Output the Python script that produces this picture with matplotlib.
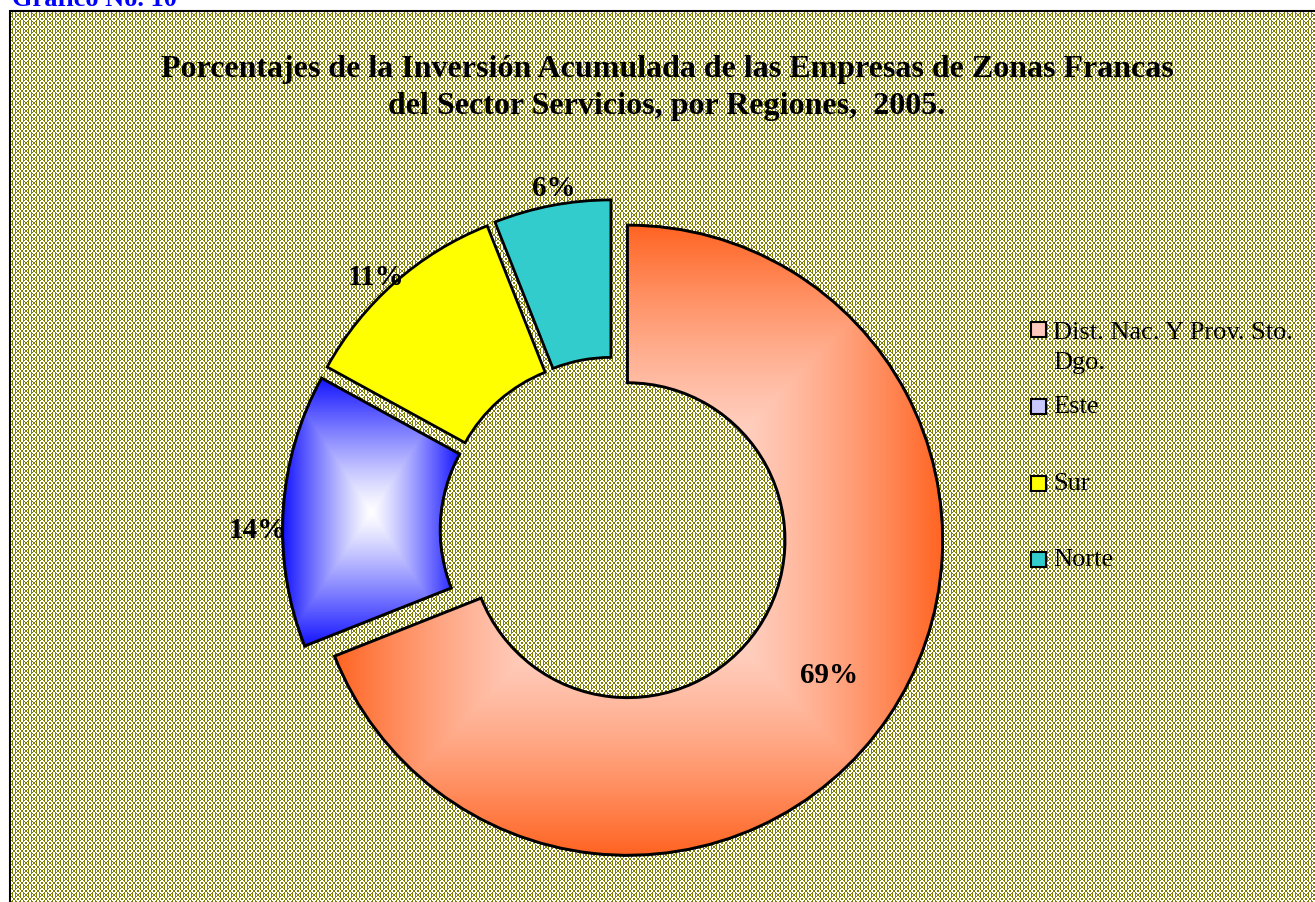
import numpy as np
import matplotlib
matplotlib.use("Agg")
import matplotlib.pyplot as plt
from matplotlib.patches import Rectangle, Wedge

# data
regions = ["Dist. Nac. Y Prov. Sto.\nDgo.", "Este", "Sur", "Norte"]
shares = [69, 14, 11, 6]
pct_labels = ["69%", "14%", "11%", "6%"]

title = ("Porcentajes de la Inversión Acumulada de las Empresas de Zonas Francas\n"
         "del Sector Servicios, por Regiones,  2005.")

W, H = 1315, 903
fig = plt.figure(figsize=(W / 100, H / 100), dpi=100)
fig.patch.set_facecolor("white")

# patterned olive background inside the frame (8px tile)
tile_rows = ["OWWOOWWO",
             "WWOWWOWW",
             "WOOWWOOW",
             "OWOWWOWO",
             "OWOWWOWO",
             "WOOWWOOW",
             "WWOWWOWW",
             "OWWOOWWO"]
tile = np.array([[ch == "W" for ch in r] for r in tile_rows])
fx0, fy_top = 10, 12
ph, pw = H - fy_top, W - fx0
white = np.tile(tile, (ph // 8 + 1, pw // 8 + 1))[:ph, :pw]
olive = np.array([128, 128, 0]) / 255.0
img = np.where(white[..., None], np.ones(3), olive)
bg = fig.add_axes([fx0 / W, 0, pw / W, ph / H])
bg.set_axis_off()
bg.imshow(img, aspect="auto", interpolation="nearest", extent=[0, 1, 0, 1])
bg.set_xlim(0, 1)
bg.set_ylim(0, 1)
fig.patches.append(Rectangle((fx0 / W, -0.01), 1.0, 1 - fy_top / H + 0.01,
                             transform=fig.transFigure, fill=False,
                             edgecolor="black", linewidth=1.5, zorder=5))

# doughnut
R = 315.0
cx, cy = 614.0, 532.0
L = 1.2
half = L * R
ax = fig.add_axes([(cx - half) / W, (H - cy - half) / H, 2 * half / W, 2 * half / H])
ax.set_xlim(-L, L)
ax.set_ylim(-L, L)
ax.set_axis_off()

flat = ["#ffb0a0", "#a0a0ff", "#ffff00", "#33cccc"]
wedges, _ = ax.pie(shares, colors=flat, startangle=90, counterclock=False,
                   explode=[0.052] * 4, radius=1.0,
                   wedgeprops=dict(width=0.5, edgecolor="black", linewidth=2))

# "from center" gradients for the first two slices
grads = {0: ("#ff6422", "#ffe8e4", 1.6), 1: ("#1414ff", "#ffffff", 1.2)}
for i, (dark, light, pw_exp) in grads.items():
    w = wedges[i]
    w.set_zorder(1)
    ext = w.get_path().get_extents()
    GX, GY = np.meshgrid(np.linspace(-1, 1, 300), np.linspace(-1, 1, 300))
    t = np.maximum(np.abs(GX), np.abs(GY)) ** pw_exp
    d = np.array(matplotlib.colors.to_rgb(dark))
    l = np.array(matplotlib.colors.to_rgb(light))
    g = l[None, None, :] * (1 - t[..., None]) + d[None, None, :] * t[..., None]
    im = ax.imshow(g, extent=[ext.x0, ext.x1, ext.y0, ext.y1], origin="lower",
                   interpolation="bilinear", zorder=2)
    im.set_clip_path(w)
    ax.add_patch(Wedge(w.center, w.r, w.theta1, w.theta2, width=w.width,
                       fill=False, edgecolor="black", linewidth=2, zorder=3))
ax.set_xlim(-L, L)
ax.set_ylim(-L, L)

label_dist = [0.76, 1.08, 1.07, 1.07]
label_dy = [0.0, -0.065, -0.035, -0.011]
label_dx = [0.01, 0.0, -0.012, 0.02]
for w, lab, dd, oy, ox in zip(wedges, pct_labels, label_dist, label_dy, label_dx):
    mid = np.deg2rad((w.theta1 + w.theta2) / 2)
    x = w.center[0] + dd * np.cos(mid) + ox
    y = w.center[1] + dd * np.sin(mid) + oy
    ax.text(x, y, lab, ha="center", va="center", fontsize=21, fontweight="bold",
            family="Liberation Serif", color="black", zorder=6)

# title and header
fig.text(667 / W, 1 - 88 / H, title, ha="center", va="center", fontsize=23,
         fontweight="bold", family="Liberation Serif", linespacing=1.32)
fig.text(12 / W, 1 - 6 / H, "Gráfico No. 10", ha="left", va="baseline",
         fontsize=19, fontweight="bold", family="Liberation Serif", color="#0000ff")

# legend
leg_y = [330, 407, 484, 560]
leg_fc = ["#ffc8bc", "#c8c8ff", "#ffff00", "#33cccc"]
for name, y, fc in zip(regions, leg_y, leg_fc):
    fig.patches.append(Rectangle((1031 / W, 1 - (y + 8) / H), 15 / W, 15 / H,
                                 transform=fig.transFigure, facecolor=fc,
                                 edgecolor="black", linewidth=1.5, zorder=6))
    if "\n" in name:
        fig.text(1053 / W, 1 - (y - 8) / H, name, ha="left", va="top",
                 fontsize=19, family="Liberation Serif", linespacing=1.45)
    else:
        fig.text(1053 / W, 1 - y / H, name, ha="left", va="center",
                 fontsize=19, family="Liberation Serif")

fig.savefig("out.png", dpi=100)
